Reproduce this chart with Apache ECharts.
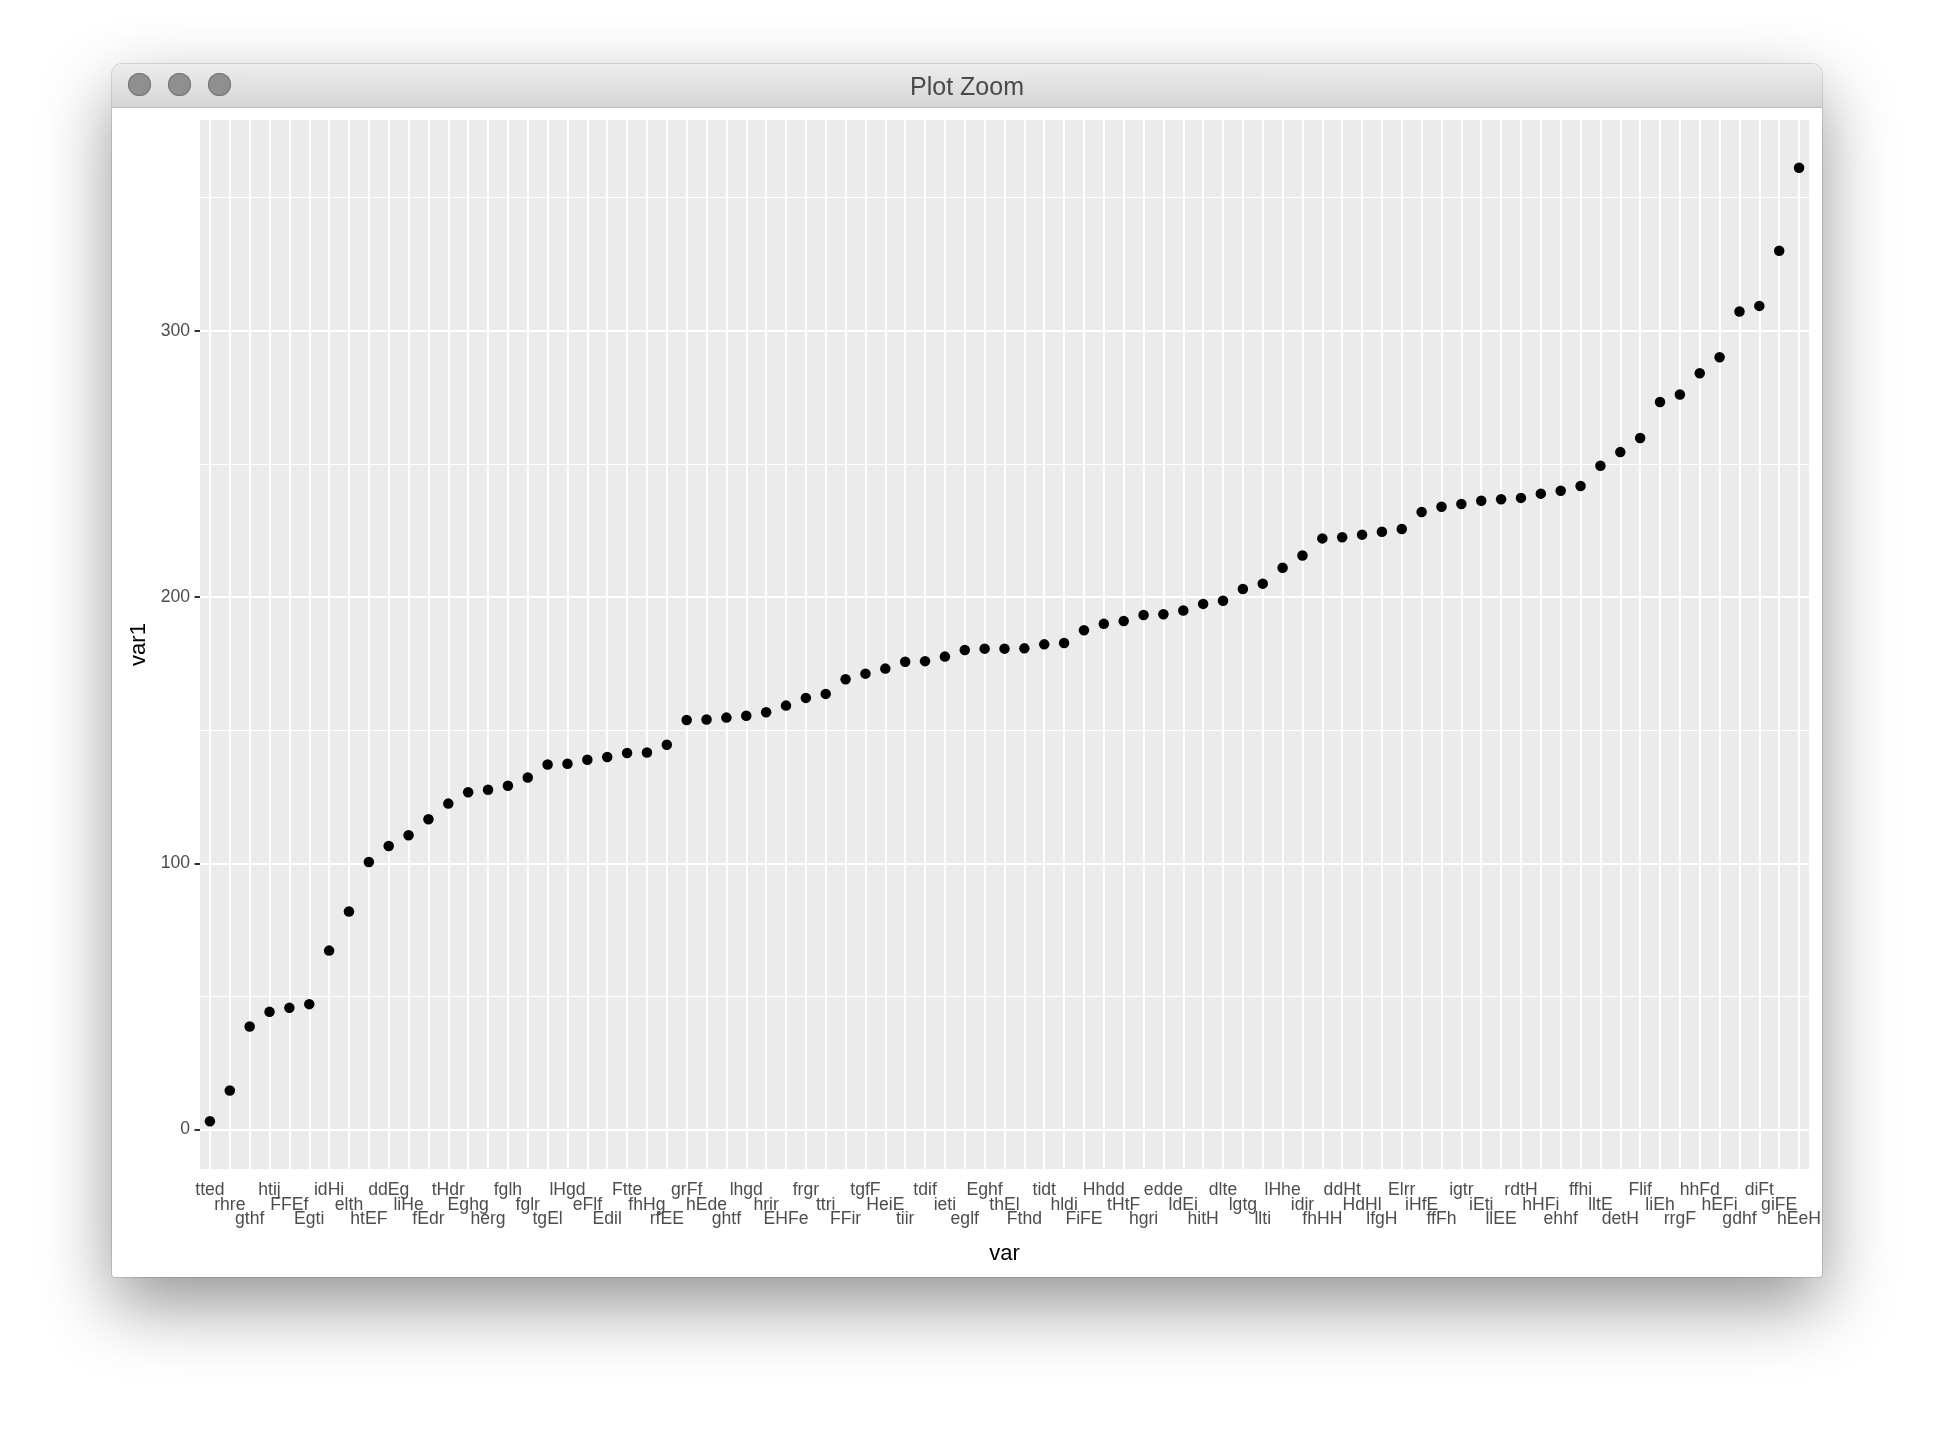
<!DOCTYPE html>
<html>
<head>
<meta charset="utf-8">
<script src="https://cdn.jsdelivr.net/npm/echarts@6/dist/echarts.min.js"></script>
<style>
  html, body { margin: 0; padding: 0; background: #ffffff; width: 1934px; height: 1438px; overflow: hidden; }
  #win { position: absolute; left: 112px; top: 64px; width: 1710px; height: 1213px; background: #ffffff;
         border-radius: 10px 10px 3px 3px; box-shadow: 0 28px 70px rgba(0,0,0,0.42), 0 0 0 1px rgba(0,0,0,0.12); }
  #bar { position: absolute; left: 0; top: 0; width: 1710px; height: 43px; border-radius: 10px 10px 0 0;
         background: linear-gradient(#ededed, #d5d5d5); border-bottom: 1px solid #bdbdbd; }
  .dot { position: absolute; top: 9px; width: 23px; height: 23px; border-radius: 50%; background: #8f8f8f;
         box-shadow: inset 0 0 0 1px #7a7a7a; }
  #chart { position: absolute; left: 0; top: 0; width: 1934px; height: 1438px; }
</style>
</head>
<body>
<div id="win"><div id="bar">
  <div class="dot" style="left:16px"></div>
  <div class="dot" style="left:56px"></div>
  <div class="dot" style="left:96px"></div>
</div></div>
<div id="chart"></div>
<script>
const categories = ["tted","rhre","gthf","htij","FFEf","Egti","idHi","elth","htEF","ddEg",
  "liHe","fEdr","tHdr","Eghg","herg","fglh","fglr","tgEl","lHgd","eFlf",
  "Edil","Ftte","fhHg","rfEE","grFf","hEde","ghtf","lhgd","hrir","EHFe",
  "frgr","ttri","FFir","tgfF","HeiE","tiir","tdif","ieti","eglf","Eghf",
  "thEl","Fthd","tidt","hldi","FiFE","Hhdd","tHtF","hgri","edde","ldEi",
  "hitH","dlte","lgtg","llti","lHhe","idir","fhHH","ddHt","HdHl","lfgH",
  "Elrr","iHfE","ffFh","igtr","iEti","llEE","rdtH","hHFi","ehhf","ffhi",
  "lltE","detH","Flif","liEh","rrgF","hhFd","hEFi","gdhf","diFt","giFE","hEeH"];
const var1 = [3.1,14.7,38.7,44.2,45.7,47.1,67.2,81.9,100.5,106.5,
  110.5,116.5,122.4,126.7,127.6,129.1,132.2,137.1,137.4,138.9,
  139.9,141.4,141.6,144.5,153.8,154.0,154.7,155.4,156.7,159.2,
  162.1,163.6,169.1,171.2,173.1,175.7,175.9,177.6,180.1,180.6,
  180.6,180.7,182.2,182.7,187.5,189.9,191.0,193.2,193.5,194.9,
  197.4,198.6,203.0,205.0,211.0,215.6,222.0,222.4,223.4,224.5,
  225.5,231.9,233.9,234.9,236.1,236.7,237.2,238.8,239.9,241.7,
  249.3,254.4,259.7,273.2,276.0,284.0,290.0,307.2,309.3,330.0,361.2];
const yMajor = [0, 100, 200, 300];
const yMinor = [50, 150, 250, 350];

const dMin = Math.min(...var1), dMax = Math.max(...var1);
const pad = (dMax - dMin) * 0.05;
const FONT = "Liberation Sans, Arial, Helvetica, sans-serif";

const gridLines = [];
yMinor.forEach(v => gridLines.push({ yAxis: v, lineStyle: { width: 1.1 } }));
yMajor.forEach(v => gridLines.push({ yAxis: v, lineStyle: { width: 2.1 } }));
categories.forEach(c => gridLines.push({ xAxis: c, lineStyle: { width: 2.1 } }));

const chart = echarts.init(document.getElementById('chart'), null, { renderer: 'canvas' });
chart.setOption({
  backgroundColor: 'transparent',
  animation: false,
  title: {
    text: 'Plot Zoom', left: 'center', top: 71,
    textStyle: { fontFamily: FONT, fontSize: 25, fontWeight: 'normal', color: '#4a4a4a' }
  },
  grid: {
    left: 200, right: 125, top: 120, bottom: 269,
    show: true, backgroundColor: '#ebebeb', borderWidth: 0
  },
  xAxis: {
    type: 'category', data: categories, boundaryGap: true,
    name: 'var', nameLocation: 'middle', nameGap: 74,
    nameTextStyle: { fontFamily: FONT, fontSize: 22, color: '#000000' },
    axisLine: { show: false },
    axisTick: { show: true, alignWithLabel: true, length: 5.5, interval: 0, lineStyle: { color: '#333333', width: 2 } },
    splitLine: { show: false },
    axisLabel: {
      interval: 0, margin: 14, fontFamily: FONT, fontSize: 17.6, color: '#4d4d4d', lineHeight: 14.5,
      verticalAlign: 'top',
      formatter: (v, i) => '\n'.repeat(i % 3) + v
    }
  },
  yAxis: {
    type: 'value', min: dMin - pad, max: dMax + pad,
    name: 'var1', nameLocation: 'middle', nameGap: 50, nameRotate: 90,
    nameTextStyle: { fontFamily: FONT, fontSize: 22, color: '#000000' },
    axisLine: { show: false },
    axisTick: { show: true, length: 5.5, customValues: yMajor, lineStyle: { color: '#333333', width: 2 } },
    splitLine: { show: false },
    minorSplitLine: { show: false },
    axisLabel: { customValues: yMajor, margin: 10, fontFamily: FONT, fontSize: 17.6, color: '#4d4d4d' }
  },
  series: [
    {
      type: 'line', data: [], z: 1, silent: true,
      markLine: {
        z: 1, zlevel: 0,
        silent: true, symbol: ['none', 'none'], animation: false,
        label: { show: false }, emphasis: { disabled: true },
        lineStyle: { color: '#ffffff', type: 'solid', opacity: 1 },
        data: gridLines
      }
    },
    {
      type: 'scatter', z: 10, symbol: 'circle', symbolSize: 10.5,
      itemStyle: { color: '#000000', opacity: 1 },
      data: var1
    }
  ]
});
</script>
</body>
</html>
